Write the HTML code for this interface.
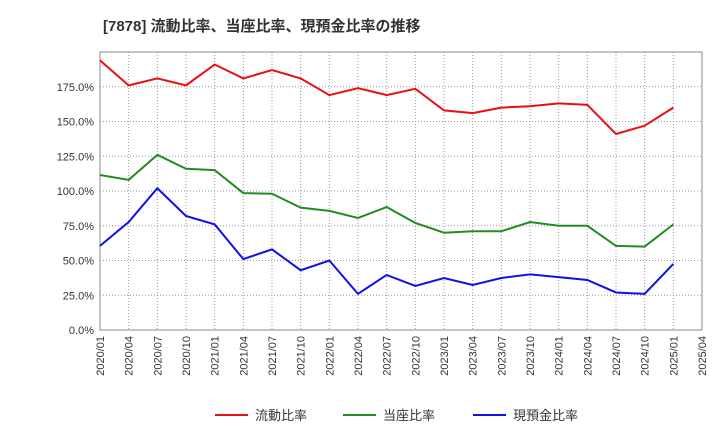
<!DOCTYPE html>
<html><head><meta charset="utf-8"><style>
body{margin:0;background:#fff;font-family:"Liberation Sans","Noto Sans CJK JP",sans-serif}
</style></head><body>
<svg id="c" width="720" height="440" xmlns="http://www.w3.org/2000/svg">
<text x="103" y="31" font-size="15" font-weight="bold" fill="#333" font-family="Liberation Sans,Noto Sans CJK JP,sans-serif">[7878]  流動比率、当座比率、現預金比率の推移</text>
</svg>
<script>
const categories=["2020/01","2020/04","2020/07","2020/10","2021/01","2021/04","2021/07","2021/10","2022/01","2022/04","2022/07","2022/10","2023/01","2023/04","2023/07","2023/10","2024/01","2024/04","2024/07","2024/10","2025/01","2025/04"];
const currentRatio=[194,176,181,176,191,181,187,181,169,174,169,173.5,158,156,160,161,163,162,141,147,160];
const quickRatio=[111.5,108,126,116,115,98.5,98,88,85.7,80.6,88.5,77,70,71,71,77.7,75,75,60.5,60,76];
const cashRatio=[60.5,77.7,102,82,76,51,58,43,50,26,39.6,31.7,37.4,32.4,37.4,40,38,36,27,26,47.5];
const yTicks=[0,25,50,75,100,125,150,175];
const yTickLabels=["0.0%","25.0%","50.0%","75.0%","100.0%","125.0%","150.0%","175.0%"];
const seriesNames=["流動比率","当座比率","現預金比率"];
const L=100,R=702,T=52,B=330,YMAX=200;
const NS="http://www.w3.org/2000/svg";
const svg=document.getElementById('c');
const xs=i=>L+(R-L)*i/(categories.length-1);
const ys=v=>B-(B-T)*v/YMAX;
function mk(t,a){const e=document.createElementNS(NS,t);for(const k in a)e.setAttribute(k,a[k]);svg.appendChild(e);return e;}
const bg=mk('rect',{x:L,y:T,width:R-L,height:B-T,fill:'#fff',stroke:'#888'});


categories.forEach((c,i)=>{
 const x=xs(i);
 if(i>0&&i<categories.length-1){const g=mk('line',{x1:x,x2:x,y1:T,y2:B,stroke:'#999','stroke-dasharray':'1,2'});
 
 }
 const t=mk('text',{x:0,y:0,'font-size':11,fill:'#333','text-anchor':'end',transform:`translate(${x+4},${B+6}) rotate(-90)`});
 t.textContent=c;
 
 
});
yTicks.forEach((v,i)=>{
 const y=ys(v);
 if(v>0){const g=mk('line',{x1:L,x2:R,y1:y,y2:y,stroke:'#999','stroke-dasharray':'1,2'});
 
 }
 const t=mk('text',{x:L-6,y:y+4,'font-size':11,fill:'#333','text-anchor':'end'});
 t.textContent=yTickLabels[i];
 
 
});
const colors=['#e81010','#228b22','#1010e8'];
[currentRatio,quickRatio,cashRatio].forEach((d,k)=>{
 const p=mk('polyline',{points:d.map((v,i)=>xs(i)+','+ys(v)).join(' '),fill:'none',stroke:colors[k],'stroke-width':2});
 
 
 const lx=[215,343,473][k];
 const ll=mk('line',{x1:lx,x2:lx+33,y1:415,y2:415,stroke:colors[k],'stroke-width':2});
 
 
 const lt=mk('text',{x:lx+40,y:420,'font-size':13,fill:'#333'});
 lt.textContent=seriesNames[k];
 
 
});
</script>
</body></html>
